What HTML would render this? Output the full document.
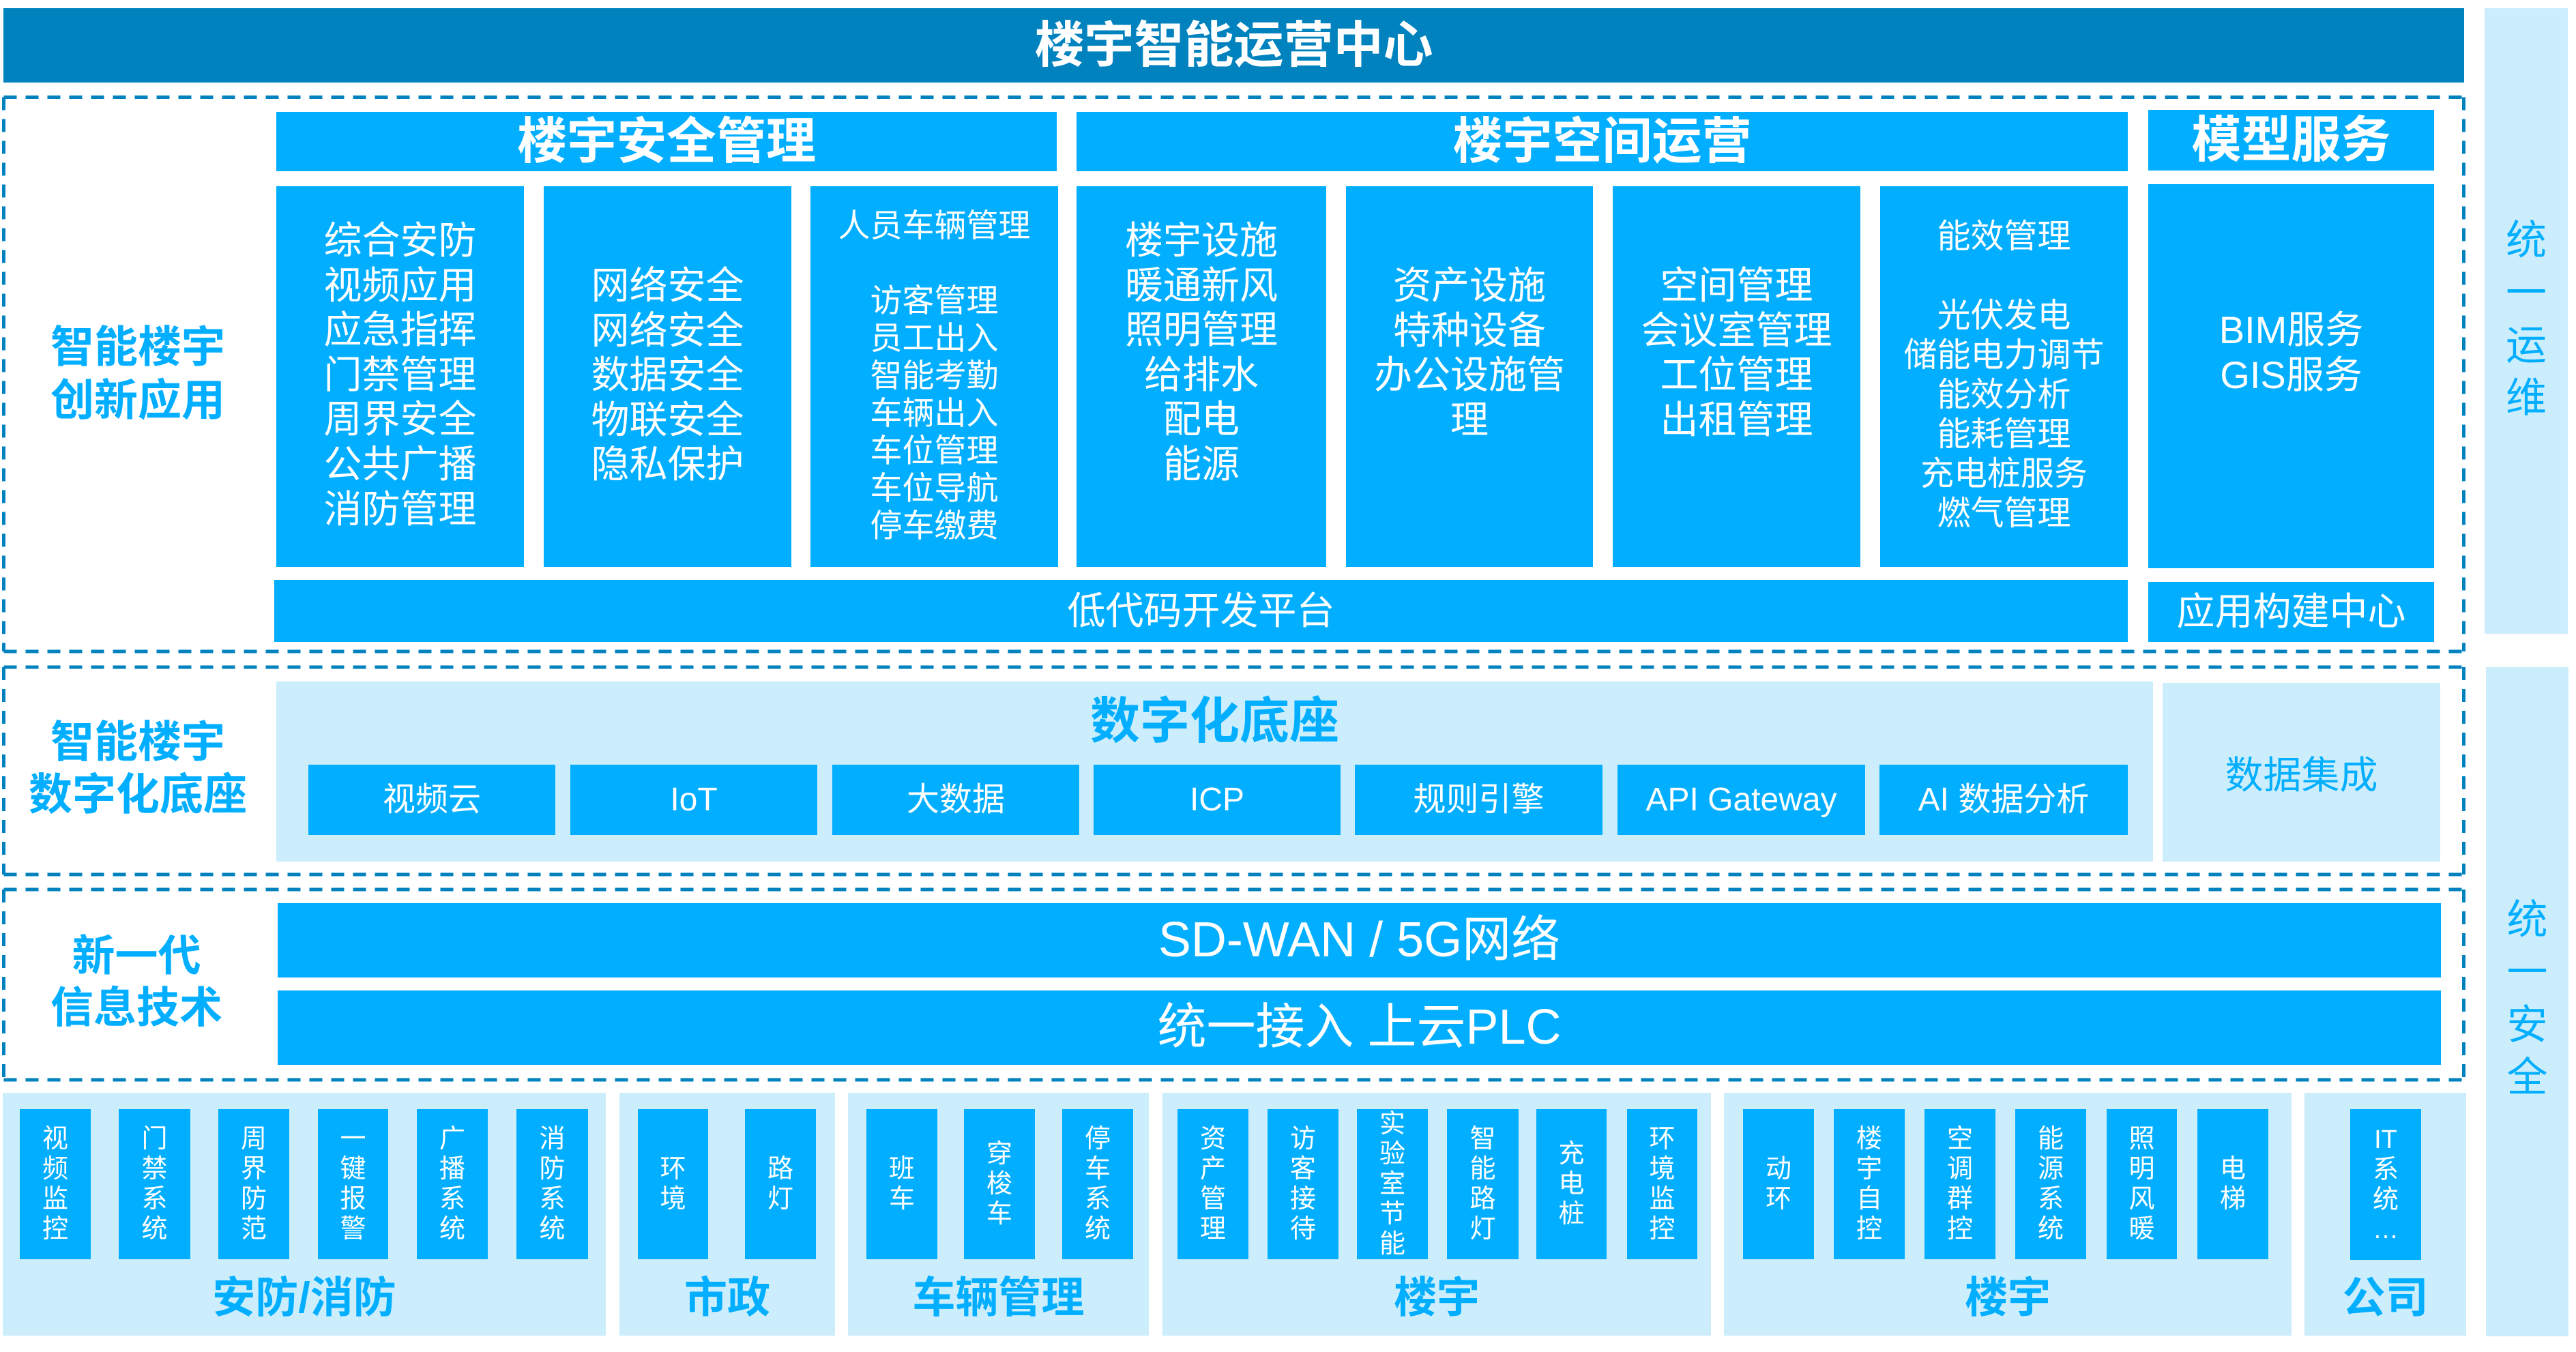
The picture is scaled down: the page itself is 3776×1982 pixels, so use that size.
<!DOCTYPE html>
<html><head><meta charset="utf-8">
<style>
*{margin:0;padding:0;box-sizing:border-box;}
html,body{width:3776px;height:1982px;background:#fff;overflow:hidden;}
body{position:relative;font-family:"Liberation Sans","Noto Sans CJK SC",sans-serif;}
.b{position:absolute;background:#02AEFF;color:#fff;}
.l{position:absolute;background:#CCEEFC;}
.d{position:absolute;background:#0082BE;color:#fff;}
.c{display:flex;align-items:center;justify-content:center;text-align:center;white-space:nowrap;}
.tx{position:absolute;left:0;right:0;text-align:center;white-space:nowrap;}
.bold{font-weight:700;}
.v{font-size:38px;line-height:44px;text-align:center;color:#fff;}
.lab{position:absolute;text-align:center;white-space:nowrap;color:#02AEFF;font-weight:700;}
</style></head><body>

<svg width="3776" height="1982" style="position:absolute;left:0;top:0;" xmlns="http://www.w3.org/2000/svg">
<g stroke="#0082BE" stroke-width="5" fill="none" stroke-dasharray="19 13">
<path d="M5.5 142.5 H3611.5"/><path d="M5.5 142.5 V955"/><path d="M5.5 955 H3611.5"/><path d="M3611.5 142.5 V955"/>
<path d="M5.5 978 H3611.5"/><path d="M5.5 978 V1282"/><path d="M5.5 1282 H3611.5"/><path d="M3611.5 978 V1282"/>
<path d="M5.5 1304 H3611.5"/><path d="M5.5 1304 V1583"/><path d="M5.5 1583 H3611.5"/><path d="M3611.5 1304 V1583"/>
</g>
</svg>

<!-- Top bar -->
<div class="d c bold" style="left:5px;top:12px;width:3607px;height:109px;font-size:73px;line-height:109px;">楼宇智能运营中心</div>

<!-- Right columns -->
<div class="l" style="left:3642px;top:12px;width:122px;height:917px;">
  <div class="tx" style="top:302px;font-size:60px;line-height:77px;color:#02AEFF;">统<br>一<br>运<br>维</div>
</div>
<div class="l" style="left:3644px;top:978px;width:121px;height:981px;">
  <div class="tx" style="top:332px;font-size:60px;line-height:77px;color:#02AEFF;">统<br>一<br>安<br>全</div>
</div>

<!-- Section 1 -->
<div class="lab" style="left:2px;top:470px;width:400px;font-size:64px;line-height:78px;">智能楼宇<br>创新应用</div>

<div class="b c bold" style="left:405px;top:164px;width:1144px;height:87px;font-size:73px;line-height:87px;">楼宇安全管理</div>
<div class="b c bold" style="left:1578px;top:164px;width:1541px;height:87px;font-size:73px;line-height:87px;">楼宇空间运营</div>
<div class="b c bold" style="left:3149px;top:161px;width:419px;height:89px;font-size:73px;line-height:89px;">模型服务</div>

<div class="b" style="left:405px;top:273px;width:363px;height:558px;">
  <div class="tx" style="top:47px;font-size:56px;line-height:65.6px;">综合安防<br>视频应用<br>应急指挥<br>门禁管理<br>周界安全<br>公共广播<br>消防管理</div>
</div>
<div class="b" style="left:797px;top:273px;width:363px;height:558px;">
  <div class="tx" style="top:113px;font-size:56px;line-height:65.6px;">网络安全<br>网络安全<br>数据安全<br>物联安全<br>隐私保护</div>
</div>
<div class="b" style="left:1188px;top:273px;width:363px;height:558px;">
  <div class="tx" style="top:30px;font-size:47px;line-height:55px;">人员车辆管理<br><br>访客管理<br>员工出入<br>智能考勤<br>车辆出入<br>车位管理<br>车位导航<br>停车缴费</div>
</div>
<div class="b" style="left:1578px;top:273px;width:366px;height:558px;">
  <div class="tx" style="top:47px;font-size:56px;line-height:65.6px;">楼宇设施<br>暖通新风<br>照明管理<br>给排水<br>配电<br>能源</div>
</div>
<div class="b" style="left:1973px;top:273px;width:362px;height:558px;">
  <div class="tx" style="top:113px;font-size:56px;line-height:65.6px;">资产设施<br>特种设备<br>办公设施管<br>理</div>
</div>
<div class="b" style="left:2364px;top:273px;width:363px;height:558px;">
  <div class="tx" style="top:113px;font-size:56px;line-height:65.6px;">空间管理<br>会议室管理<br>工位管理<br>出租管理</div>
</div>
<div class="b" style="left:2756px;top:273px;width:363px;height:558px;">
  <div class="tx" style="top:45px;font-size:49px;line-height:58px;">能效管理<br><br>光伏发电<br>储能电力调节<br>能效分析<br>能耗管理<br>充电桩服务<br>燃气管理</div>
</div>
<div class="b" style="left:3149px;top:270px;width:419px;height:563px;">
  <div class="tx" style="top:181px;font-size:56px;line-height:66px;">BIM服务<br>GIS服务</div>
</div>

<div class="b c" style="left:402px;top:850px;width:2717px;height:91px;font-size:56px;line-height:91px;">低代码开发平台</div>
<div class="b c" style="left:3149px;top:853px;width:419px;height:88px;font-size:56px;line-height:88px;">应用构建中心</div>

<!-- Section 2 -->
<div class="lab" style="left:2px;top:1050px;width:400px;font-size:64px;line-height:77px;">智能楼宇<br>数字化底座</div>
<div class="l" style="left:405px;top:999px;width:2751px;height:264px;">
  <div class="tx bold" style="top:18px;font-size:73px;line-height:82px;color:#02AEFF;">数字化底座</div>
</div>
<div class="b c" style="left:452px;top:1121px;width:362px;height:103px;font-size:48px;line-height:103px;">视频云</div>
<div class="b c" style="left:836px;top:1121px;width:362px;height:103px;font-size:48px;line-height:103px;">IoT</div>
<div class="b c" style="left:1220px;top:1121px;width:362px;height:103px;font-size:48px;line-height:103px;">大数据</div>
<div class="b c" style="left:1603px;top:1121px;width:362px;height:103px;font-size:48px;line-height:103px;">ICP</div>
<div class="b c" style="left:1986px;top:1121px;width:363px;height:103px;font-size:48px;line-height:103px;">规则引擎</div>
<div class="b c" style="left:2371px;top:1121px;width:363px;height:103px;font-size:48px;line-height:103px;">API Gateway</div>
<div class="b c" style="left:2755px;top:1121px;width:364px;height:103px;font-size:48px;line-height:103px;">AI 数据分析</div>
<div class="l c" style="left:3170px;top:1001px;width:407px;height:262px;font-size:56px;color:#02AEFF;">数据集成</div>

<!-- Section 3 -->
<div class="lab" style="left:0px;top:1364px;width:400px;font-size:63px;line-height:76px;">新一代<br>信息技术</div>
<div class="b c" style="left:407px;top:1324px;width:3171px;height:109px;font-size:72px;line-height:109px;">SD-WAN / 5G网络</div>
<div class="b c" style="left:407px;top:1452px;width:3171px;height:109px;font-size:72px;line-height:109px;">统一接入 上云PLC</div>

<!-- Section 4 panels -->
<div class="l" style="left:4px;top:1602px;width:884px;height:356px;"></div>
<div class="l" style="left:908px;top:1602px;width:316px;height:356px;"></div>
<div class="l" style="left:1243px;top:1602px;width:441px;height:356px;"></div>
<div class="l" style="left:1704px;top:1602px;width:804px;height:356px;"></div>
<div class="l" style="left:2527px;top:1602px;width:832px;height:356px;"></div>
<div class="l" style="left:3378px;top:1602px;width:237px;height:356px;"></div>

<!-- vertical boxes -->
<div class="b c" style="left:29px;top:1626px;width:104px;height:220px;"><div class="v">视<br>频<br>监<br>控</div></div>
<div class="b c" style="left:174px;top:1626px;width:105px;height:220px;"><div class="v">门<br>禁<br>系<br>统</div></div>
<div class="b c" style="left:320px;top:1626px;width:104px;height:220px;"><div class="v">周<br>界<br>防<br>范</div></div>
<div class="b c" style="left:466px;top:1626px;width:103px;height:220px;"><div class="v">一<br>键<br>报<br>警</div></div>
<div class="b c" style="left:611px;top:1626px;width:104px;height:220px;"><div class="v">广<br>播<br>系<br>统</div></div>
<div class="b c" style="left:757px;top:1626px;width:105px;height:220px;"><div class="v">消<br>防<br>系<br>统</div></div>

<div class="b c" style="left:935px;top:1626px;width:103px;height:220px;"><div class="v">环<br>境</div></div>
<div class="b c" style="left:1092px;top:1626px;width:104px;height:220px;"><div class="v">路<br>灯</div></div>

<div class="b c" style="left:1270px;top:1626px;width:104px;height:220px;"><div class="v">班<br>车</div></div>
<div class="b c" style="left:1413px;top:1626px;width:104px;height:220px;"><div class="v">穿<br>梭<br>车</div></div>
<div class="b c" style="left:1557px;top:1626px;width:104px;height:220px;"><div class="v">停<br>车<br>系<br>统</div></div>

<div class="b c" style="left:1726px;top:1626px;width:104px;height:220px;"><div class="v">资<br>产<br>管<br>理</div></div>
<div class="b c" style="left:1858px;top:1626px;width:104px;height:220px;"><div class="v">访<br>客<br>接<br>待</div></div>
<div class="b c" style="left:1989px;top:1626px;width:104px;height:220px;"><div class="v">实<br>验<br>室<br>节<br>能</div></div>
<div class="b c" style="left:2121px;top:1626px;width:105px;height:220px;"><div class="v">智<br>能<br>路<br>灯</div></div>
<div class="b c" style="left:2252px;top:1626px;width:103px;height:220px;"><div class="v">充<br>电<br>桩</div></div>
<div class="b c" style="left:2385px;top:1626px;width:103px;height:220px;"><div class="v">环<br>境<br>监<br>控</div></div>

<div class="b c" style="left:2555px;top:1626px;width:104px;height:220px;"><div class="v">动<br>环</div></div>
<div class="b c" style="left:2688px;top:1626px;width:104px;height:220px;"><div class="v">楼<br>宇<br>自<br>控</div></div>
<div class="b c" style="left:2821px;top:1626px;width:104px;height:220px;"><div class="v">空<br>调<br>群<br>控</div></div>
<div class="b c" style="left:2954px;top:1626px;width:104px;height:220px;"><div class="v">能<br>源<br>系<br>统</div></div>
<div class="b c" style="left:3088px;top:1626px;width:103px;height:220px;"><div class="v">照<br>明<br>风<br>暖</div></div>
<div class="b c" style="left:3221px;top:1626px;width:104px;height:220px;"><div class="v">电<br>梯</div></div>

<div class="b c" style="left:3445px;top:1626px;width:104px;height:221px;"><div class="v">IT<br>系<br>统<br>…</div></div>

<!-- bottom labels -->
<div class="lab" style="left:4px;top:1868px;width:884px;font-size:63px;line-height:70px;">安防/消防</div>
<div class="lab" style="left:908px;top:1868px;width:316px;font-size:63px;line-height:70px;">市政</div>
<div class="lab" style="left:1243px;top:1868px;width:441px;font-size:63px;line-height:70px;">车辆管理</div>
<div class="lab" style="left:1704px;top:1868px;width:804px;font-size:63px;line-height:70px;">楼宇</div>
<div class="lab" style="left:2527px;top:1868px;width:832px;font-size:63px;line-height:70px;">楼宇</div>
<div class="lab" style="left:3378px;top:1868px;width:237px;font-size:63px;line-height:70px;">公司</div>

</body></html>
